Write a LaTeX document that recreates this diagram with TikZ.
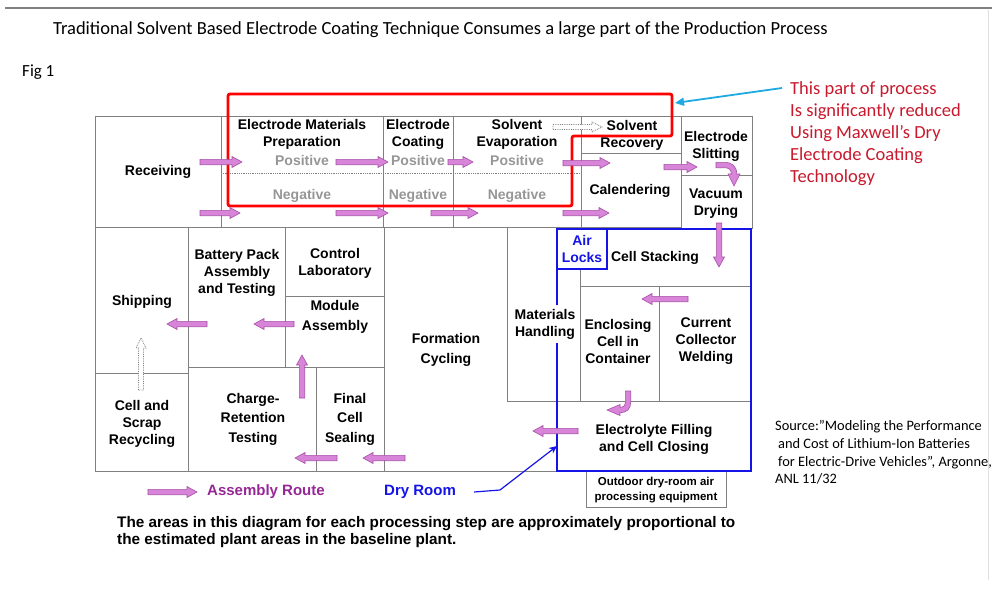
\documentclass[tikz,border=0pt]{standalone}
\usepackage{fontspec}
\setmainfont{Liberation Sans}
\newfontfamily\calibri{Carlito}
\usetikzlibrary{arrows.meta}

\definecolor{wallgray}{RGB}{128,128,128}
\definecolor{flowfill}{RGB}{216,132,216}
\definecolor{flowline}{RGB}{165,80,165}
\definecolor{dryblue}{RGB}{20,20,230}
\definecolor{labelgray}{RGB}{150,150,150}
\definecolor{notered}{RGB}{200,25,45}
\definecolor{pointcyan}{RGB}{30,170,225}
\definecolor{routepurple}{RGB}{150,40,150}

% horizontal block arrow: x start, x end, y
\newcommand\hflow[3]{%
  \pgfmathsetmacro\flowhx{#2-10*sign(#2-#1)}%
  \filldraw[flow] (#1,#3-2.7) -- (\flowhx,#3-2.7) -- (\flowhx,#3-5.5) -- (#2,#3)
    -- (\flowhx,#3+5.5) -- (\flowhx,#3+2.7) -- (#1,#3+2.7) -- cycle;}
% vertical block arrow: x, y start, y end
\newcommand\vflow[3]{%
  \pgfmathsetmacro\flowhy{#3-10*sign(#3-#2)}%
  \filldraw[flow] (#1-2.7,#2) -- (#1-2.7,\flowhy) -- (#1-5.5,\flowhy) -- (#1,#3)
    -- (#1+5.5,\flowhy) -- (#1+2.7,\flowhy) -- (#1+2.7,#2) -- cycle;}

\begin{document}
\begin{tikzpicture}[x=1pt,y=-1pt,
  wall/.style={draw=wallgray, line width=0.9pt},
  dry/.style={draw=dryblue, line width=1.8pt},
  flow/.style={fill=flowfill, draw=flowline, line width=0.6pt, line join=miter},
  ghost/.style={draw=wallgray, densely dotted, line width=0.8pt, fill=white},
  room/.style={font=\fontsize{14}{17}\selectfont\bfseries, align=center, inner sep=1pt},
  roomwide/.style={room, font=\fontsize{14}{19.5}\selectfont\bfseries},
  side/.style={room, text=labelgray},
  legend/.style={font=\fontsize{15}{18}\selectfont\bfseries, anchor=west, inner sep=1pt},
  note/.style={font=\calibri\fontsize{18.5}{22}\selectfont, text=notered, align=left, anchor=west, inner sep=0pt},
  src/.style={font=\calibri\fontsize{14.4}{17.7}\selectfont, align=left, anchor=west, inner sep=0pt}]

\useasboundingbox (0,0) rectangle (992,602);

% page frame
\draw[wallgray, line width=1.6pt] (5,8) -- (992,8);
\draw[black!12, line width=0.8pt] (988,10) -- (988,580);

% headings
\node[font=\calibri\fontsize{18.5}{22}\selectfont, anchor=west, inner sep=0pt] (title) at (53,30)
  {Traditional Solvent Based Electrode Coating Technique Consumes a large part of the Production Process};
\node[font=\calibri\fontsize{17}{20}\selectfont, anchor=west, inner sep=0pt] (fig) at (22,72) {Fig 1};

% ---------- floor plan walls ----------
\draw[wall] (95,471) -- (95,116) -- (752,116) -- (752,229);
\draw[wall] (95,227) -- (681,227);
\draw[wall] (681,229) -- (752,229);
\foreach \xx in {221,383,453,581} \draw[wall] (\xx,116) -- (\xx,227);
\draw[wall] (681,116) -- (681,229);
\draw[wall] (581,153) -- (681,153);
\draw[wall] (681,175) -- (752,175);
\draw[wallgray, densely dotted, line width=0.8pt] (221,173) -- (581,173);

\draw[wall] (188.5,227) -- (188.5,471);
\draw[wall] (95,373) -- (188.5,373);
\draw[wall] (285,227) -- (285,367);
\draw[wall] (188.5,367) -- (384,367);
\draw[wall] (285,296) -- (384,296);
\draw[wall] (384,227) -- (384,471);
\draw[wall] (316,367) -- (316,471);
\draw[wall] (95,471) -- (557,471);
\draw[wall] (507,227) -- (507,401) -- (751,401);
\draw[wall] (580,269) -- (580,401);
\draw[wall] (580,286) -- (751,286);
\draw[wall] (659,286) -- (659,401);
\draw[wall] (586,471) rectangle (726,507);

% dry room boundary and air locks
\draw[dry] (557,305) -- (557,229) -- (751,229) -- (751,471) -- (557,471) -- (557,343);
\draw[dry] (557,229) rectangle (607,269);

% region replaced by dry electrode coating
\draw[red, line width=2.8pt, rounded corners=2pt]
  (228,94) -- (672,94) -- (672,136) -- (572,136) -- (572,206) -- (228,206) -- cycle;

% ---------- room labels ----------
\node[room] (receiving) at (158,172) {Receiving};
\node[room] (prep) at (302,134) {Electrode Materials\\Preparation};
\node[side] (prepPos) at (302,160) {Positive};
\node[side] (prepNeg) at (302,196) {Negative};
\node[room] (coat) at (418,134) {Electrode\\Coating};
\node[side] (coatPos) at (418,160) {Positive};
\node[side] (coatNeg) at (418,196) {Negative};
\node[room] (evap) at (517,134) {Solvent\\Evaporation};
\node[side] (evapPos) at (517,160) {Positive};
\node[side] (evapNeg) at (517,196) {Negative};
\node[room] (recov) at (632,135) {Solvent\\Recovery};
\node[room] (calend) at (630,191) {Calendering};
\node[room] (slit) at (716,146) {Electrode\\Slitting};
\node[room] (vacuum) at (716,204) {Vacuum\\Drying};
\node[room, text=dryblue] (locks) at (582,249) {Air\\Locks};
\node[room] (stack) at (655,258) {Cell Stacking};
\node[room] (handling) at (545,324) {Materials\\Handling};
\node[room] (enclose) at (618,341) {Enclosing\\Cell in\\Container};
\node[room] (weld) at (706,341) {Current\\Collector\\Welding};
\node[roomwide] (formation) at (446,350) {Formation\\Cycling};
\node[room] (shipping) at (142,302) {Shipping};
\node[room] (pack) at (237,273) {Battery Pack\\Assembly\\and Testing};
\node[room] (lab) at (335,263) {Control\\Laboratory};
\node[roomwide] (module) at (335,317) {Module\\Assembly};
\node[room] (recycle) at (142,424) {Cell and\\Scrap\\Recycling};
\node[roomwide] (retention) at (253,419) {Charge-\\Retention\\Testing};
\node[roomwide] (sealing) at (350,419) {Final\\Cell\\Sealing};
\node[room] (filling) at (654,439) {Electrolyte Filling\\and Cell Closing};
\node[font=\fontsize{11.5}{15}\selectfont\bfseries, align=center, inner sep=0pt] (outdoor) at (656,490)
  {Outdoor dry-room air\\processing equipment};

% ---------- assembly route ----------
\hflow{200}{242}{162}
\hflow{200}{240}{213}
\hflow{336}{388}{162}
\hflow{336}{388}{213}
\hflow{448}{473}{162}
\hflow{431}{478}{213}
\hflow{563}{610}{163}
\hflow{563}{609}{213}
\hflow{664}{697}{167}
\vflow{719}{223}{267}
\hflow{688}{642}{299}
\hflow{578}{533}{431}
\hflow{405}{363}{458}
\hflow{337}{295}{458}
\vflow{302}{398}{355}
\hflow{294}{254}{324}
\hflow{207}{167}{324}

% bend from slitting down to vacuum drying
\filldraw[flow] (716,162.3) -- (724,162.3) .. controls (732,162.3) and (736.7,166) .. (736.7,174)
  -- (740,174) -- (734,186) -- (728,174) -- (731.3,174)
  .. controls (731.3,169.5) and (729,167.7) .. (724,167.7) -- (716,167.7) -- cycle;
% bend from the welding area into electrolyte filling
\filldraw[flow] (625.3,391) -- (630.7,391) -- (630.7,402) .. controls (630.7,409) and (627,412.7) .. (620,412.7)
  -- (620,415.5) -- (607,410) -- (620,404.5) -- (620,407.3)
  .. controls (623.5,407.3) and (625.3,405.5) .. (625.3,402) -- cycle;

% solvent transfer and scrap return (dotted outline arrows)
\filldraw[ghost] (553,124.5) -- (592,124.5) -- (592,122) -- (602,127) -- (592,132) -- (592,129.5) -- (553,129.5) -- cycle;
\filldraw[ghost] (138.5,390) -- (138.5,348) -- (136,348) -- (141,338) -- (146,348) -- (143.5,348) -- (143.5,390) -- cycle;

% ---------- legend ----------
\hflow{148}{197}{492}
\node[legend, text=routepurple] (route) at (206,492) {Assembly Route};
\node[legend, text=dryblue] (dryroom) at (383,492) {Dry Room};
\coordinate (dryknee) at (500,490);
\coordinate (drywall) at (557,446);
\draw[dryblue, line width=1.2pt, -{Stealth[length=8pt,width=7pt]}]
  ([xshift=17pt]dryroom.east) -- (dryknee) -- (drywall);

\node[font=\fontsize{15.3}{17}\selectfont\bfseries, align=left, anchor=west, inner sep=0pt] (caption) at (117,532.5)
  {The areas in this diagram for each processing step are approximately proportional to\\
   the estimated plant areas in the baseline plant.};

% ---------- side notes ----------
\node[note] (remark) at (790,134)
  {This part of process\\Is significantly reduced\\Using Maxwell’s Dry\\Electrode Coating\\Technology};
\coordinate (remarktail) at (782,88);
\coordinate (redcorner) at (675,103);
\draw[pointcyan, line width=1.8pt, -{Triangle[length=9pt,width=8pt]}] (remarktail) -- (redcorner);

\node[src] (source) at (775,452.5)
  {Source:”Modeling the Performance\\
   \hspace*{3pt}and Cost of Lithium-Ion Batteries\\
   \hspace*{3pt}for Electric-Drive Vehicles”, Argonne,\\
   ANL 11/32};
\end{tikzpicture}
\end{document}
